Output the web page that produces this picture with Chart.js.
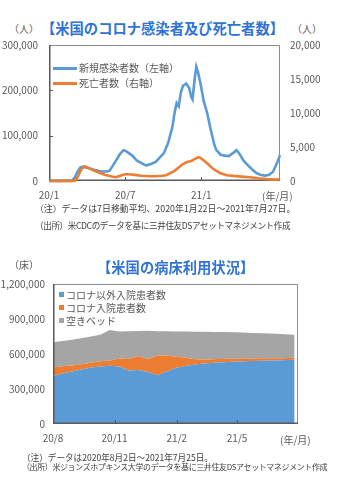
<!DOCTYPE html>
<html>
<head>
<meta charset="utf-8">
<script src="https://cdn.jsdelivr.net/npm/chart.js@4"></script>
<style>
  body { margin: 0; background: #fff; width: 337px; height: 480px; position: relative; overflow: hidden;
         font-family: "Noto Sans CJK JP", sans-serif; color: #595959; }
  .t { position: absolute; white-space: nowrap; line-height: 14px; height: 14px; }
  .title { color: #2f73d4; font-weight: bold; font-size: 14.3px; line-height: 20px; height: 20px; }
  .unit { font-size: 10px; }
  .note { font-size: 8.6px; color: #404040; }
  .leg { font-size: 10px; }
  .sw-line { position: absolute; height: 3px; width: 24px; }
  .sw-box { position: absolute; width: 5px; height: 5px; }
  canvas { position: absolute; left: 0; }
</style>
</head>
<body>
<div class="t title" style="left:0;width:325px;text-align:center;top:18px;">【米国のコロナ感染者及び死亡者数】</div>
<div class="t unit" style="left:9px;top:22px;">（人）</div>
<div class="t unit" style="left:292px;top:22px;">（人）</div>
<canvas id="cases" width="337" height="200" style="top:0"></canvas>
<div class="sw-line" style="left:53px;top:67px;background:#5b9bd5"></div>
<div class="t leg" style="left:79px;top:61px;">新規感染者数（左軸）</div>
<div class="sw-line" style="left:53px;top:82px;background:#ed7d31"></div>
<div class="t leg" style="left:79px;top:76px;">死亡者数（右軸）</div>
<div class="t unit" style="left:262px;top:189px;">(年/月)</div>
<div class="t note" style="left:35px;top:202px;font-size:8.9px;">（注）データは7日移動平均、2020年1月22日～2021年7月27日。</div>
<div class="t note" style="left:35px;top:218px;letter-spacing:-0.4px;">（出所）米CDCのデータを基に三井住友DSアセットマネジメント作成</div>

<div class="t title" style="left:97px;top:257px;">【米国の病床利用状況】</div>
<div class="t unit" style="left:9px;top:258px;">（床）</div>
<canvas id="beds" width="337" height="180" style="top:270px"></canvas>
<div class="sw-box" style="left:59px;top:292px;background:#5b9bd5"></div>
<div class="t leg" style="left:66px;top:288px;">コロナ以外入院患者数</div>
<div class="sw-box" style="left:59px;top:305px;background:#ed7d31"></div>
<div class="t leg" style="left:66px;top:301px;">コロナ入院患者数</div>
<div class="sw-box" style="left:59px;top:318px;background:#a5a5a5"></div>
<div class="t leg" style="left:66px;top:314px;">空きベッド</div>
<div class="t unit" style="left:280px;top:433px;">(年/月)</div>
<div class="t note" style="left:22px;top:450px;">（注）データは2020年8月2日～2021年7月25日。</div>
<div class="t note" style="left:22px;top:460px;font-size:8px;letter-spacing:-0.4px;">（出所）米ジョンズホプキンス大学のデータを基に三井住友DSアセットマネジメント作成</div>

<script>
/* DATA: cases / deaths (days counted from 2020-01-22) */
const caseDays = [0, 48, 55, 62, 68, 75, 82, 90, 100, 110,
  125, 140, 145, 150, 160, 170, 178, 182, 190, 200,
  210, 220, 232, 245, 255, 265, 275, 285, 295, 300,
  305, 310, 315, 320, 328, 335, 340, 343, 348, 352,
  356, 362, 370, 378, 386, 395, 400, 410, 420, 430,
  440, 448, 455, 465, 475, 485, 495, 505, 515, 525,
  535, 545, 552];
const caseValues = [0, 0, 500, 8000, 20000, 30000, 31500, 29000, 27000, 24000,
  21000, 21000, 23000, 30000, 45000, 60000, 68000, 67000, 62000, 55000,
  45000, 40000, 34000, 38000, 42000, 52000, 62000, 85000, 120000, 150000,
  172000, 165000, 195000, 210000, 215000, 205000, 185000, 180000, 225000, 252000,
  240000, 215000, 175000, 150000, 115000, 80000, 68000, 58000, 56000, 55000,
  62000, 68000, 60000, 45000, 35000, 26000, 18000, 14000, 12000, 13000,
  20000, 40000, 57000];
const deathDays = [0, 60, 64, 70, 76, 82, 87, 95, 110, 125,
  135, 150, 160, 172, 182, 190, 205, 220, 240, 255,
  270, 280, 290, 300, 310, 320, 330, 340, 350, 357,
  362, 370, 380, 390, 400, 410, 425, 440, 460, 480,
  500, 520, 540, 552];
const deathValues = [0, 0, 150, 800, 1600, 2050, 2150, 1900, 1450, 1100,
  880, 650, 560, 800, 1000, 1000, 900, 780, 700, 700,
  780, 850, 1150, 1500, 2000, 2500, 2800, 2950, 3300, 3500,
  3400, 3000, 2500, 1900, 1500, 1150, 850, 750, 650, 550,
  400, 280, 200, 250];
const caseTickDays = [0, 182, 364];
const caseTickLabels = ["20/1", "20/7", "21/1"];
const leftTicks = [0, 100000, 200000, 300000];
const rightTicks = [0, 5000, 10000, 15000, 20000];

/* DATA: hospital beds (days counted from 2020-08-02) */
const bedDays = [0, 14, 28, 42, 56, 70, 84, 98, 112, 126,
  140, 154, 168, 182, 196, 210, 224, 238, 252, 266,
  280, 294, 308, 322, 336, 350, 357];
const nonCovid = [412000, 432000, 450000, 468000, 484000, 492000, 500000, 492000, 458000, 462000,
  445000, 418000, 450000, 482000, 497000, 510000, 518000, 524000, 530000, 534000,
  538000, 540000, 542000, 545000, 547000, 548000, 550000];
const covid = [72000, 62000, 52000, 45000, 42000, 45000, 45000, 70000, 100000, 120000,
  110000, 170000, 138000, 95000, 70000, 45000, 35000, 32000, 30000, 25000,
  25000, 22000, 22000, 18000, 17000, 18000, 20000];
const emptyBeds = [216000, 218000, 220000, 222000, 224000, 228000, 260000, 230000, 237000, 215000,
  245000, 207000, 207000, 216000, 225000, 235000, 237000, 233000, 228000, 227000,
  221000, 219000, 214000, 213000, 208000, 202000, 196000];
const bedTickDays = [0, 91, 183, 272];
const bedTickLabels = ["20/8", "20/11", "21/2", "21/5"];
const bedTicks = [0, 300000, 600000, 900000, 1200000];

Chart.defaults.font.family = "'Noto Sans CJK JP', sans-serif";
Chart.defaults.font.size = 10;
Chart.defaults.color = "#595959";

const pts = (xs, ys) => xs.map((x, i) => ({ x: x, y: ys[i] }));
const fmt = v => v.toLocaleString("en-US");

// box round the plot + small inward tick marks
const frame = {
  id: "frame",
  draw(chart, over) {
    const o = chart.options.plugins.frame;
    if (!!o.over !== over) return;
    const a = chart.chartArea, ctx = chart.ctx;
    ctx.save();
    ctx.strokeStyle = "#8c8c8c";
    ctx.lineWidth = 1;
    ctx.beginPath();
    ctx.moveTo(a.left, a.top + 0.5); ctx.lineTo(a.right - 0.5, a.top + 0.5); ctx.lineTo(a.right - 0.5, a.bottom);
    ctx.stroke();
    ctx.strokeStyle = "#595959";
    ctx.lineWidth = 1.5;
    ctx.beginPath();
    ctx.moveTo(a.left + 0.75, a.top); ctx.lineTo(a.left + 0.75, a.bottom - 0.75); ctx.lineTo(a.right, a.bottom - 0.75);
    ctx.stroke();
    ctx.lineWidth = 1;
    ctx.beginPath();
    (o.xTicks || []).forEach(v => {
      const px = Math.round(chart.scales.x.getPixelForValue(v)) + 0.5;
      ctx.moveTo(px, a.bottom); ctx.lineTo(px, a.bottom - 4);
    });
    (o.yTicks || []).forEach(v => {
      const py = Math.round(chart.scales.y.getPixelForValue(v)) + 0.5;
      ctx.moveTo(a.left, py); ctx.lineTo(a.left + 4, py);
    });
    ctx.stroke();
    ctx.restore();
  },
  beforeDatasetsDraw(chart) { this.draw(chart, false); },
  afterDatasetsDraw(chart) { this.draw(chart, true); }
};

/* CASES CHART */
new Chart(document.getElementById("cases"), {
  type: "line",
  data: {
    datasets: [{
      label: "新規感染者数（左軸）",
      data: pts(caseDays, caseValues),
      yAxisID: "y",
      borderColor: "#5b9bd5",
      borderWidth: 2.6,
      pointRadius: 0,
      order: 1,
      clip: 4
    }, {
      label: "死亡者数（右軸）",
      data: pts(deathDays, deathValues),
      yAxisID: "y2",
      borderColor: "#ed7d31",
      borderWidth: 2.6,
      pointRadius: 0,
      order: 0,
      clip: 4
    }]
  },
  options: {
    responsive: false,
    animation: false,
    layout: { padding: { top: 45, right: 0, left: 0, bottom: 0 } },
    plugins: {
      legend: { display: false },
      tooltip: { enabled: false },
      frame: { over: false, xTicks: [182, 364], yTicks: [100000, 200000] }
    },
    scales: {
      x: {
        type: "linear", min: 0, max: 552,
        afterBuildTicks: s => { s.ticks = caseTickDays.map(v => ({ value: v })); },
        afterFit: s => { s.height = 19; },
        ticks: { autoSkip: false, maxRotation: 0, padding: 8,
          callback: v => caseTickLabels[caseTickDays.indexOf(v)] },
        grid: { display: false, drawTicks: false },
        border: { display: false }
      },
      y: {
        position: "left", min: 0, max: 300000,
        afterBuildTicks: s => { s.ticks = leftTicks.map(v => ({ value: v })); },
        afterFit: s => { s.width = 49; },
        ticks: { padding: 11, callback: v => fmt(v) },
        grid: { display: false, drawTicks: false },
        border: { display: false }
      },
      y2: {
        position: "right", min: 0, max: 20000,
        afterBuildTicks: s => { s.ticks = rightTicks.map(v => ({ value: v })); },
        afterFit: s => { s.width = 57; },
        ticks: { padding: 10, callback: v => fmt(v) },
        grid: { display: false, drawTicks: false },
        border: { display: false }
      }
    }
  },
  plugins: [frame]
});

/* BEDS CHART */
new Chart(document.getElementById("beds"), {
  type: "line",
  data: {
    datasets: [{
      label: "コロナ以外入院患者数",
      data: pts(bedDays, nonCovid),
      backgroundColor: "#5b9bd5",
      fill: "origin"
    }, {
      label: "コロナ入院患者数",
      data: pts(bedDays, covid),
      backgroundColor: "#ed7d31",
      fill: "-1"
    }, {
      label: "空きベッド",
      data: pts(bedDays, emptyBeds),
      backgroundColor: "#a5a5a5",
      fill: "-1"
    }]
  },
  options: {
    responsive: false,
    animation: false,
    elements: { line: { borderWidth: 0, tension: 0 }, point: { radius: 0 } },
    layout: { padding: { top: 13, right: 39, left: 0, bottom: 0 } },
    plugins: {
      legend: { display: false },
      tooltip: { enabled: false },
      filler: { propagate: false },
      frame: { over: true, xTicks: [91, 183, 272] }
    },
    scales: {
      x: {
        type: "linear", min: 0, max: 362,
        afterBuildTicks: s => { s.ticks = bedTickDays.map(v => ({ value: v })); },
        afterFit: s => { s.height = 26; },
        ticks: { autoSkip: false, maxRotation: 0, padding: 8,
          callback: v => bedTickLabels[bedTickDays.indexOf(v)] },
        grid: { display: false, drawTicks: false },
        border: { display: false }
      },
      y: {
        stacked: true, min: 0, max: 1200000,
        afterBuildTicks: s => { s.ticks = bedTicks.map(v => ({ value: v })); },
        afterFit: s => { s.width = 53; },
        ticks: { padding: 8, callback: v => fmt(v) },
        grid: { display: false, drawTicks: false },
        border: { display: false }
      }
    }
  },
  plugins: [frame]
});
</script>
</body>
</html>
